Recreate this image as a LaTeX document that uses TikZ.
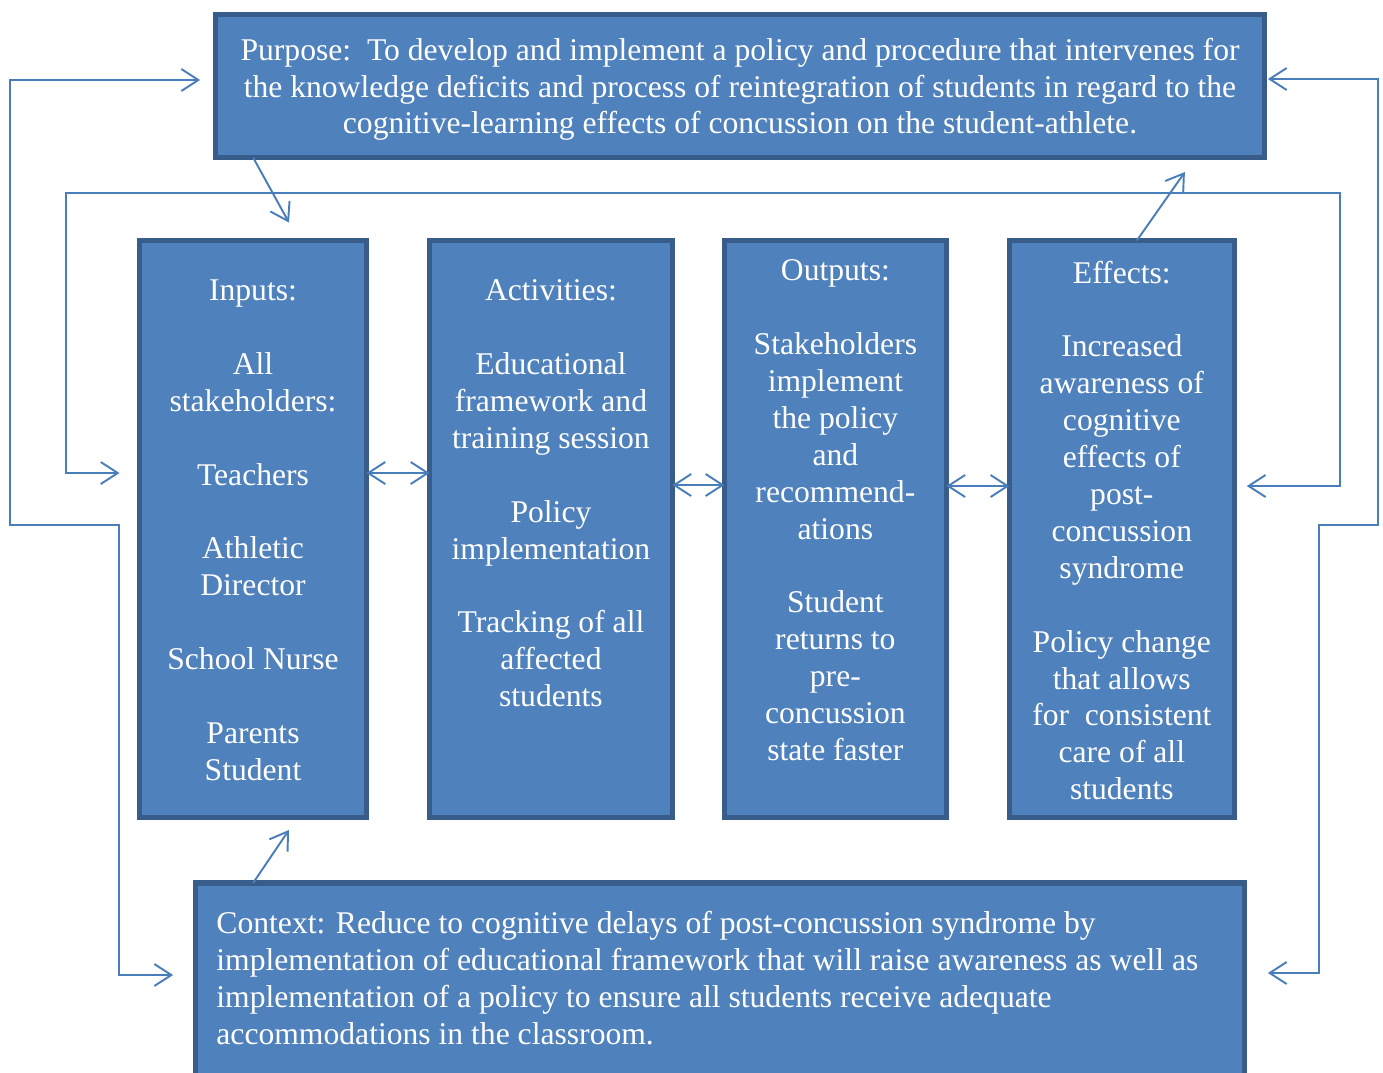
\documentclass[tikz,border=0pt]{standalone}
\usepackage{fontspec}
\setmainfont{Liberation Serif}
\usepackage{xcolor}
\usepackage{tikz}
\usetikzlibrary{arrows.meta, positioning}

\definecolor{boxfill}{HTML}{4F81BD}
\definecolor{boxline}{HTML}{385D8A}
\definecolor{linkcol}{HTML}{4A7EBB}

\begin{document}
\begin{tikzpicture}[x=0.02cm, y=-0.02cm]
\tikzstyle{block} = [rectangle, draw=boxline, fill=boxfill, line width=3pt, outer sep=0pt, inner sep=0pt]
\tikzstyle{blocktext} = [text=white, inner sep=0pt, align=center, font=\fontsize{18pt}{21pt}\selectfont]
\tikzstyle{arrow} = [draw=linkcol, line width=1.1pt, -{Straight Barb[length=0.34cm,width=0.44cm]}]
\tikzstyle{twoway} = [draw=linkcol, line width=1.1pt, {Straight Barb[length=0.34cm,width=0.44cm]}-{Straight Barb[length=0.34cm,width=0.44cm]}]

\useasboundingbox (0,0) rectangle (1383,1072);

% boxes
\node (purpose) [block, minimum width=20.98cm, minimum height=2.86cm] at (740,86) {};
\node (inputs) [block, minimum width=4.54cm, minimum height=11.54cm] at (253,529) {};
\node (activities) [block, minimum width=4.86cm, minimum height=11.54cm, right=1.26cm of inputs] {};
\node (outputs) [block, minimum width=4.44cm, minimum height=11.54cm, right=1.04cm of activities] {};
\node (effects) [block, minimum width=4.5cm, minimum height=11.54cm, right=1.26cm of outputs] {};
\node (context) [block, minimum width=20.98cm, minimum height=4.28cm] at (720,990) {};

% texts
\node (purposeT) [blocktext, anchor=north, below=0.46cm of purpose.north] {Purpose:\ \ To develop and implement a policy and procedure that intervenes for\\ the knowledge deficits and process of reintegration of students in regard to the\\ cognitive-learning effects of concussion on the student-athlete.};
\node (inputsT) [blocktext, below=0.78cm of inputs.north] {Inputs:\\[21pt] All\\ stakeholders:\\[21pt] Teachers\\[21pt] Athletic\\ Director\\[21pt] School Nurse\\[21pt] Parents\\ Student};
\node (activitiesT) [blocktext, below=0.78cm of activities.north] {Activities:\\[21pt] Educational\\ framework and\\ training session\\[21pt] Policy\\ implementation\\[21pt] Tracking of all\\ affected\\ students};
\node (outputsT) [blocktext, below=0.38cm of outputs.north] {Outputs:\\[21pt] Stakeholders\\ implement\\ the policy\\ and\\ recommend-\\ ations\\[21pt] Student\\ returns to\\ pre-\\ concussion\\ state faster};
\node (effectsT) [blocktext, below=0.4cm of effects.north] {Effects:\\[21pt] Increased\\ awareness of\\ cognitive\\ effects of\\ post-\\ concussion\\ syndrome\\[21pt] Policy change\\ that allows\\ for\ \ consistent\\ care of all\\ students};
\node (contextT) [blocktext, align=left, anchor=north west, below right=0.56cm and 0.41cm of context.north west] {Context: Reduce to cognitive delays of post-concussion syndrome by\\ implementation of educational framework that will raise awareness as well as\\ implementation of a policy to ensure all students receive adequate\\ accommodations in the classroom.};

% links
\draw [arrow] ([xshift=0.75cm]purpose.south west) -- ([xshift=0.72cm,yshift=0.36cm]inputs.north);
\draw [arrow] ([xshift=0.3cm]effects.north) -- ([xshift=-1.59cm,yshift=-0.29cm]purpose.south east);
\draw [arrow] ([xshift=1.15cm]context.north west) -- ([xshift=0.72cm,yshift=-0.25cm]inputs.south);
\draw [twoway] ([yshift=1.12cm]inputs.east) -- ([yshift=1.12cm]activities.west);
\draw [twoway] ([yshift=0.88cm]activities.east) -- ([yshift=0.88cm]outputs.west);
\draw [twoway] ([yshift=0.86cm]outputs.east) -- ([yshift=0.86cm]effects.west);

% feedback loops
\draw [twoway] ([xshift=-0.31cm,yshift=0.12cm]purpose.west) -| (10,525) -- (119,525) |- ([xshift=-0.45cm,yshift=0.3cm]context.west);
\draw [twoway] ([xshift=-0.4cm,yshift=1.12cm]inputs.west) -| (66,193) -- (1340,193) |- ([xshift=0.25cm,yshift=0.86cm]effects.east);
\draw [twoway] ([xshift=0.07cm,yshift=0.14cm]purpose.east) -| (1378,525) -- (1319,525) |- ([xshift=0.47cm,yshift=0.34cm]context.east);

\end{tikzpicture}
\end{document}
